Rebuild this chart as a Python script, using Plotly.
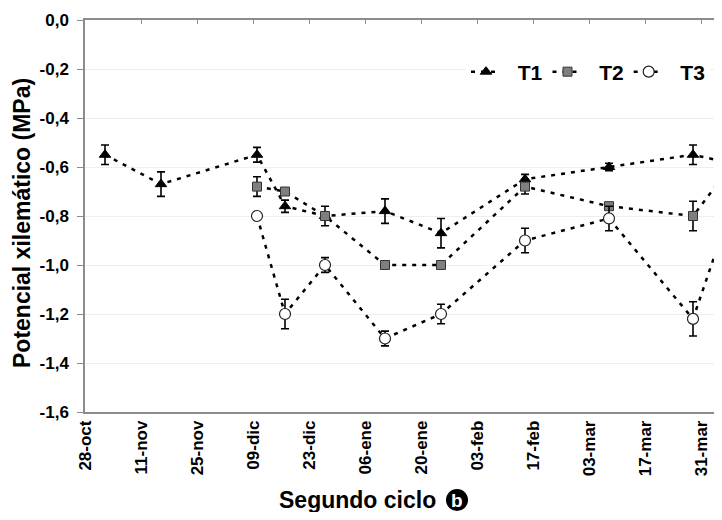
import plotly.graph_objects as go

# ---- data ----
t1_dates = ["2009-11-02", "2009-11-16", "2009-12-10", "2009-12-17", "2009-12-27",
            "2010-01-11", "2010-01-25", "2010-02-15", "2010-03-08", "2010-03-29", "2010-04-12"]
t1_vals = [-0.55, -0.67, -0.55, -0.76, -0.80, -0.78, -0.87, -0.65, -0.60, -0.55, -0.60]
t1_err = [0.04, 0.05, 0.03, 0.025, 0.0, 0.05, 0.06, 0.02, 0.015, 0.04, 0.0]

t23_dates = ["2009-12-10", "2009-12-17", "2009-12-27", "2010-01-11", "2010-01-25",
             "2010-02-15", "2010-03-08", "2010-03-29", "2010-04-12"]
t2_vals = [-0.68, -0.70, -0.80, -1.00, -1.00, -0.68, -0.76, -0.80, -0.50]
t2_err = [0.04, 0.01, 0.04, 0.01, 0.01, 0.03, 0.01, 0.06, 0.0]
t3_vals = [-0.80, -1.20, -1.00, -1.30, -1.20, -0.90, -0.81, -1.22, -0.55]
t3_err = [0.0, 0.06, 0.03, 0.03, 0.04, 0.05, 0.05, 0.07, 0.0]

tick_dates = ["2009-10-28", "2009-11-11", "2009-11-25", "2009-12-09", "2009-12-23",
              "2010-01-06", "2010-01-20", "2010-02-03", "2010-02-17", "2010-03-03",
              "2010-03-17", "2010-03-31"]
tick_labels = ["28-oct", "11-nov", "25-nov", "09-dic", "23-dic", "06-ene", "20-ene",
               "03-feb", "17-feb", "03-mar", "17-mar", "31-mar"]
y_ticks = [0.0, -0.2, -0.4, -0.6, -0.8, -1.0, -1.2, -1.4, -1.6]
y_labels = ["0,0", "-0,2", "-0,4", "-0,6", "-0,8", "-1,0", "-1,2", "-1,4", "-1,6"]

# plot runs past the right edge of the picture (it is cut off there)
x_range = ["2009-10-28", "2010-04-05 06:00"]

FONT = "Liberation Sans, Arial, sans-serif"
DASH = "4px,6px"
NB = "\u00a0\u00a0"

# page body has an 8px margin: shift/shrink the figure so it fits the window exactly
OFF = 8
L, T, W, H = 85 - OFF, 20 - OFF, 722 - OFF, 520 - 2 * OFF
PW, PH = W - L, 392

def px(xv):
    return (xv - 85) / PW

def py(yv):
    return (412 - yv) / PH

fig = go.Figure()

def err(a):
    return dict(type="data", array=a, visible=True, color="black", thickness=1.6, width=4)

fig.add_trace(go.Scatter(
    x=t1_dates, y=t1_vals, name=NB + "T1", mode="lines+markers",
    line=dict(color="black", width=2.5, dash=DASH),
    marker=dict(symbol="triangle-up", size=10, color="black", line=dict(color="black", width=1)),
    error_y=err(t1_err), cliponaxis=True))
fig.add_trace(go.Scatter(
    x=t23_dates, y=t2_vals, name=NB + "T2", mode="lines+markers",
    line=dict(color="black", width=2.5, dash=DASH),
    marker=dict(symbol="square", size=9, color="#7f7f7f", line=dict(color="#333333", width=1)),
    error_y=err(t2_err), cliponaxis=True))
fig.add_trace(go.Scatter(
    x=t23_dates, y=t3_vals, name=NB + "T3", mode="lines+markers",
    line=dict(color="black", width=2.5, dash=DASH),
    marker=dict(symbol="circle", size=11, color="white", line=dict(color="#222222", width=1.2)),
    error_y=err(t3_err), cliponaxis=True))
# helper trace so the top axis is drawn
fig.add_trace(go.Scatter(x=[x_range[0]], y=[None], xaxis="x2", showlegend=False,
                         hoverinfo="skip", mode="markers"))

fig.update_layout(
    width=W, height=H,
    margin=dict(l=L, r=0, t=T, b=H - T - PH, autoexpand=False),
    paper_bgcolor="white", plot_bgcolor="white",
    font=dict(family=FONT, color="black", size=17, weight="bold"),
    showlegend=True,
    legend=dict(orientation="h", x=px(466), y=py(72), xanchor="left", yanchor="middle",
                bgcolor="white", font=dict(size=21, family=FONT, weight="bold"),
                itemwidth=30, tracegroupgap=0),
    xaxis=dict(type="date", range=x_range, tickvals=tick_dates, ticktext=tick_labels,
               tickangle=-90, showgrid=False, zeroline=False, showline=True,
               linecolor="#8c8c8c", linewidth=1.5, ticks="", automargin=False,
               tickfont=dict(size=17, family=FONT, weight="bold")),
    xaxis2=dict(type="date", range=x_range, overlaying="x", side="top", anchor="y",
                tickvals=tick_dates, showticklabels=False, showgrid=False, zeroline=False,
                showline=True, linecolor="#8c8c8c", linewidth=1.5, automargin=False,
                ticks="inside", ticklen=4, tickwidth=1.2, tickcolor="#8c8c8c"),
    yaxis=dict(range=[-1.6, 0.0], tickvals=y_ticks, ticktext=y_labels,
               showgrid=True, gridcolor="#eeeeee", gridwidth=1.2, zeroline=False,
               showline=True, linecolor="#8c8c8c", linewidth=1.5, automargin=False,
               ticks="outside", ticklen=6, tickcolor="#8c8c8c", ticklabelstandoff=5,
               tickfont=dict(size=17, family=FONT, weight="bold")),
)

# axis titles
fig.add_annotation(text="Potencial xilemático (MPa)", xref="paper", yref="paper",
                   x=px(22), y=py(223), textangle=-90, showarrow=False,
                   xanchor="center", yanchor="middle",
                   font=dict(size=23, family=FONT, weight="bold"))
fig.add_annotation(text="Segundo ciclo", xref="paper", yref="paper",
                   x=px(357), y=py(500), showarrow=False,
                   xanchor="center", yanchor="middle",
                   font=dict(size=23, family=FONT, weight="bold"))
# circled "b"
fig.add_shape(type="circle", xref="paper", yref="paper", layer="below",
              x0=px(446), x1=px(468), y0=py(511), y1=py(489),
              fillcolor="black", line=dict(color="black", width=0))
fig.add_annotation(text="b", xref="paper", yref="paper",
                   x=px(457), y=py(500), showarrow=False,
                   xanchor="center", yanchor="middle",
                   font=dict(size=19, color="white", family=FONT, weight="bold"))

fig.write_html("out.html")
